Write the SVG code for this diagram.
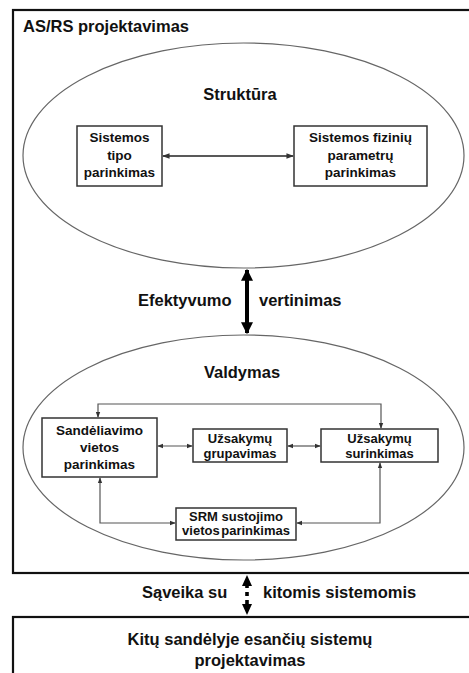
<svg xmlns="http://www.w3.org/2000/svg" width="469" height="673" viewBox="0 0 469 673">
  <style>
    text { font-family: "Liberation Sans", Arial, sans-serif; font-weight: bold; fill: #111; }
    .big { font-size: 16.5px; }
    .mid { font-size: 13.5px; text-anchor: middle; }
    .sm { font-size: 13px; text-anchor: middle; }
    .frame { fill: #fff; stroke: #111; stroke-width: 2.2; }
    .oval { fill: #fff; stroke: #666; stroke-width: 1.2; }
    .box { fill: #fff; stroke: #333; stroke-width: 1.5; }
    .link { fill: none; stroke: #555; stroke-width: 1.2; }
    .link2 { fill: none; stroke: #222; stroke-width: 1.5; }
  </style>
  <defs>
    <marker id="tip" viewBox="0 0 8 8" refX="7" refY="4" markerWidth="5" markerHeight="5" orient="auto-start-reverse">
      <path d="M0,1 L8,4 L0,7 z" fill="#333"/>
    </marker>
    <marker id="tipBig" viewBox="0 0 10 10" refX="9" refY="5" markerWidth="3" markerHeight="3" orient="auto-start-reverse">
      <path d="M0,0 L10,5 L0,10 z" fill="#000"/>
    </marker>
  </defs>

  <rect width="469" height="673" fill="#fff"/>

  <!-- AS/RS design frame -->
  <g id="asrs">
    <rect class="frame" x="13" y="10" width="470" height="563"/>
    <text class="big" x="23" y="32">AS/RS projektavimas</text>
  </g>

  <!-- Structure ellipse -->
  <g id="struktura">
    <ellipse class="oval" cx="243.5" cy="155.5" rx="220.5" ry="112.5"/>
    <text class="big" x="240" y="100" text-anchor="middle">Struktūra</text>
  </g>

  <g id="tipo">
    <rect class="box" x="77" y="126" width="85" height="60"/>
    <text class="mid" x="119.5" y="142">Sistemos</text>
    <text class="mid" x="119.5" y="159.5">tipo</text>
    <text class="mid" x="119.5" y="177">parinkimas</text>
  </g>

  <g id="fiziniai">
    <rect class="box" x="294" y="126" width="133" height="60"/>
    <text class="mid" x="360.5" y="142">Sistemos fizinių</text>
    <text class="mid" x="360.5" y="159.5">parametrų</text>
    <text class="mid" x="360.5" y="177">parinkimas</text>
  </g>

  <!-- Control ellipse -->
  <g id="valdymas">
    <ellipse class="oval" cx="243.5" cy="447.5" rx="220.5" ry="112.5"/>
    <text class="big" x="242" y="378" text-anchor="middle">Valdymas</text>
  </g>

  <g id="sandeliavimas">
    <rect class="box" x="42" y="418" width="115" height="59"/>
    <text class="mid" x="99.5" y="435">Sandėliavimo</text>
    <text class="mid" x="99.5" y="452">vietos</text>
    <text class="mid" x="99.5" y="468.5">parinkimas</text>
  </g>

  <g id="grupavimas">
    <rect class="box" x="193" y="429" width="94" height="33"/>
    <text class="sm" x="240" y="443">Užsakymų</text>
    <text class="sm" x="240" y="458">grupavimas</text>
  </g>

  <g id="surinkimas">
    <rect class="box" x="321" y="429" width="117" height="33"/>
    <text class="sm" x="379.5" y="443">Užsakymų</text>
    <text class="sm" x="379.5" y="458">surinkimas</text>
  </g>

  <g id="srm">
    <rect class="box" x="176" y="508" width="120" height="32"/>
    <text class="sm" x="236" y="521">SRM sustojimo</text>
    <text class="sm" x="236" y="535" word-spacing="-2">vietos parinkimas</text>
  </g>

  <!-- Other warehouse systems -->
  <g id="kitos">
    <rect class="frame" x="13" y="617" width="470" height="70"/>
    <text class="big" x="250" y="645" text-anchor="middle">Kitų sandėlyje esančių sistemų</text>
    <text class="big" x="250" y="666" text-anchor="middle">projektavimas</text>
  </g>

  <!-- Connectors -->
  <g id="connectors">
    <line class="link2" x1="163" y1="156" x2="293" y2="156" marker-start="url(#tip)" marker-end="url(#tip)"/>

    <line x1="247" y1="270" x2="247" y2="333" stroke="#000" stroke-width="4" marker-start="url(#tipBig)" marker-end="url(#tipBig)"/>
    <text class="big" x="138" y="306">Efektyvumo</text>
    <text class="big" x="259" y="306">vertinimas</text>

    <line class="link" x1="158" y1="446" x2="192" y2="446" marker-start="url(#tip)" marker-end="url(#tip)"/>
    <line class="link" x1="288" y1="446" x2="320" y2="446" marker-start="url(#tip)" marker-end="url(#tip)"/>
    <polyline class="link" points="98,417 98,404 381,404 381,428" marker-start="url(#tip)" marker-end="url(#tip)"/>
    <polyline class="link" points="100,478 100,523 175,523" marker-start="url(#tip)" marker-end="url(#tip)"/>
    <polyline class="link" points="380,463 380,523 297,523" marker-start="url(#tip)" marker-end="url(#tip)"/>

    <!-- interaction arrow drawn as broken thick arrow -->
    <polygon points="247,575 242,586 252,586" fill="#000"/>
    <rect x="245.2" y="585" width="3.6" height="3" fill="#000"/>
    <rect x="245.2" y="592" width="3.6" height="4" fill="#000"/>
    <rect x="245.2" y="600" width="3.6" height="4" fill="#000"/>
    <polygon points="247,615 242,604 252,604" fill="#000"/>
    <text class="big" x="142" y="598">Sąveika su</text>
    <text class="big" x="263" y="598">kitomis sistemomis</text>
  </g>
</svg>
